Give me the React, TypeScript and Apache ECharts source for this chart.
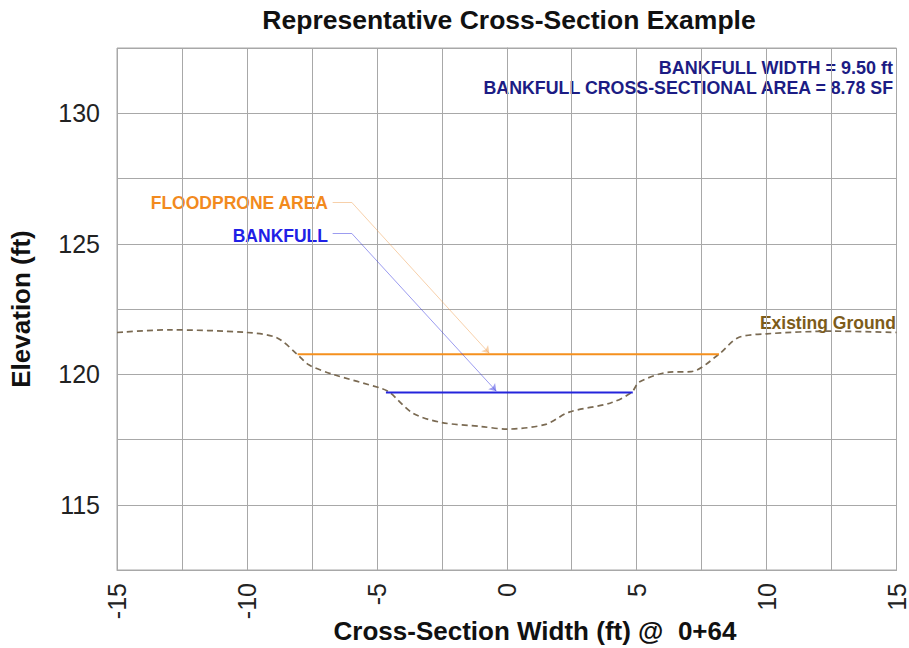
import React, { useEffect, useRef } from "react";
import * as echarts from "echarts";

const groundPoints: [number, number][] = [
  [-15, 121.6], [-13, 121.7], [-10, 121.6], [-8.85, 121.4], [-8.05, 120.75],
  [-7.6, 120.35], [-6.7, 120.0], [-4.8, 119.45], [-4.5, 119.3], [-3.6, 118.5],
  [-2.5, 118.15], [-1.0, 118.0], [0, 117.9], [1.5, 118.08], [2.4, 118.55],
  [4.0, 118.9], [4.8, 119.3], [5.1, 119.7], [6.25, 120.08], [7.1, 120.1],
  [8.17, 120.77], [8.9, 121.4], [10, 121.55], [12.5, 121.65], [15, 121.6],
];
const floodproneX = [-8.05, 8.17];
const floodproneElev = 120.77;
const bankfullX = [-4.65, 4.85];
const bankfullElev = 119.3;
const floodproneLeader: [number, number][] = [[-6.7, 126.59], [-5.97, 126.59], [-0.67, 120.8]];
const bankfullLeader: [number, number][] = [[-6.7, 125.4], [-5.97, 125.4], [-0.4, 119.35]];
const xTicks = { min: -15, max: 15, step: 2.5 };
const yTicks = { min: 112.5, max: 132.5, step: 2.5 };

const FONT = "Liberation Sans, Arial, sans-serif";

export default function App() {
  const ref = useRef<HTMLDivElement>(null);
  useEffect(() => {
    if (!ref.current) return;
    const chart = echarts.init(ref.current, null, { renderer: "svg" });
    const gridColor = "#a8a8a8";
    const orange = "#f5901e";
    const blue = "#2424dc";
    const txt = (x: number, y: number, text: string, fontSize: number, fill: string, align: string) => ({
      type: "text",
      x,
      y,
      style: {
        text,
        fontSize,
        fontWeight: "bold",
        fontFamily: FONT,
        fill,
        textAlign: align,
        textVerticalAlign: "middle",
      },
    });
    chart.setOption({
      animation: false,
      backgroundColor: "#ffffff",
      grid: { left: 117, right: 11, top: 48, bottom: 78, show: true, borderColor: gridColor, borderWidth: 1 },
      xAxis: {
        type: "value",
        min: xTicks.min,
        max: xTicks.max,
        interval: xTicks.step,
        axisLine: { show: true, lineStyle: { color: gridColor, width: 1 } },
        axisTick: { show: false },
        splitLine: { show: true, lineStyle: { color: gridColor, width: 1 } },
        axisLabel: {
          rotate: 90,
          margin: 13,
          fontSize: 25,
          color: "#222",
          fontFamily: FONT,
          formatter: (v: number) => (Math.abs(v % 5) < 1e-9 ? String(v) : ""),
        },
      },
      yAxis: {
        type: "value",
        min: yTicks.min,
        max: yTicks.max,
        interval: yTicks.step,
        name: "Elevation (ft)",
        nameLocation: "middle",
        nameGap: 83,
        nameTextStyle: { fontSize: 26, fontWeight: "bold", color: "#111", fontFamily: FONT },
        axisLine: { show: true, lineStyle: { color: gridColor, width: 1 } },
        axisTick: { show: false },
        splitLine: { show: true, lineStyle: { color: gridColor, width: 1 } },
        axisLabel: {
          margin: 17,
          fontSize: 25,
          color: "#222",
          fontFamily: FONT,
          formatter: (v: number) => (Math.abs(v % 5) < 1e-9 ? String(v) : ""),
        },
      },
      series: [
        {
          type: "line",
          name: "Existing Ground",
          data: groundPoints,
          symbol: "none",
          smooth: 0.3,
          lineStyle: { color: "#7a6a52", width: 1.7, type: [6, 4] },
          z: 3,
        },
        {
          type: "line",
          name: "Floodprone",
          data: floodproneX.map((x) => [x, floodproneElev]),
          symbol: "none",
          lineStyle: { color: orange, width: 2 },
          z: 4,
        },
        {
          type: "line",
          name: "Bankfull",
          data: bankfullX.map((x) => [x, bankfullElev]),
          symbol: "none",
          lineStyle: { color: blue, width: 2 },
          z: 4,
        },
        {
          type: "lines",
          coordinateSystem: "cartesian2d",
          symbol: ["none", "none"],
          data: [
            { coords: [floodproneLeader[0], floodproneLeader[1]], lineStyle: { color: "#efa255", width: 1 } },
            { coords: [bankfullLeader[0], bankfullLeader[1]], lineStyle: { color: "#3a3ae2", width: 1 } },
          ],
          z: 5,
        },
        {
          type: "lines",
          coordinateSystem: "cartesian2d",
          symbol: ["none", "arrow"],
          symbolSize: 7,
          data: [
            { coords: [floodproneLeader[1], floodproneLeader[2]], lineStyle: { color: "#efa255", width: 1 } },
            { coords: [bankfullLeader[1], bankfullLeader[2]], lineStyle: { color: "#3a3ae2", width: 1 } },
          ],
          z: 5,
        },
      ],
      graphic: [
        txt(509, 20, "Representative Cross-Section Example", 26.5, "#111", "center"),
        txt(535, 631, "Cross-Section Width (ft) @  0+64", 26, "#111", "center"),
        txt(893, 68, "BANKFULL WIDTH = 9.50 ft", 18, "#1c1c84", "right"),
        txt(893, 88, "BANKFULL CROSS-SECTIONAL AREA = 8.78 SF", 17.8, "#1c1c84", "right"),
        txt(328, 203, "FLOODPRONE AREA", 17.5, "#f28a1e", "right"),
        txt(328, 236, "BANKFULL", 17.5, "#2020e6", "right"),
        txt(896, 323, "Existing Ground", 17.5, "#7d5c1a", "right"),
      ],
    });
    return () => chart.dispose();
  }, []);
  return <div ref={ref} style={{ position: "absolute", left: 0, top: 0, width: 909, height: 648 }} />;
}
